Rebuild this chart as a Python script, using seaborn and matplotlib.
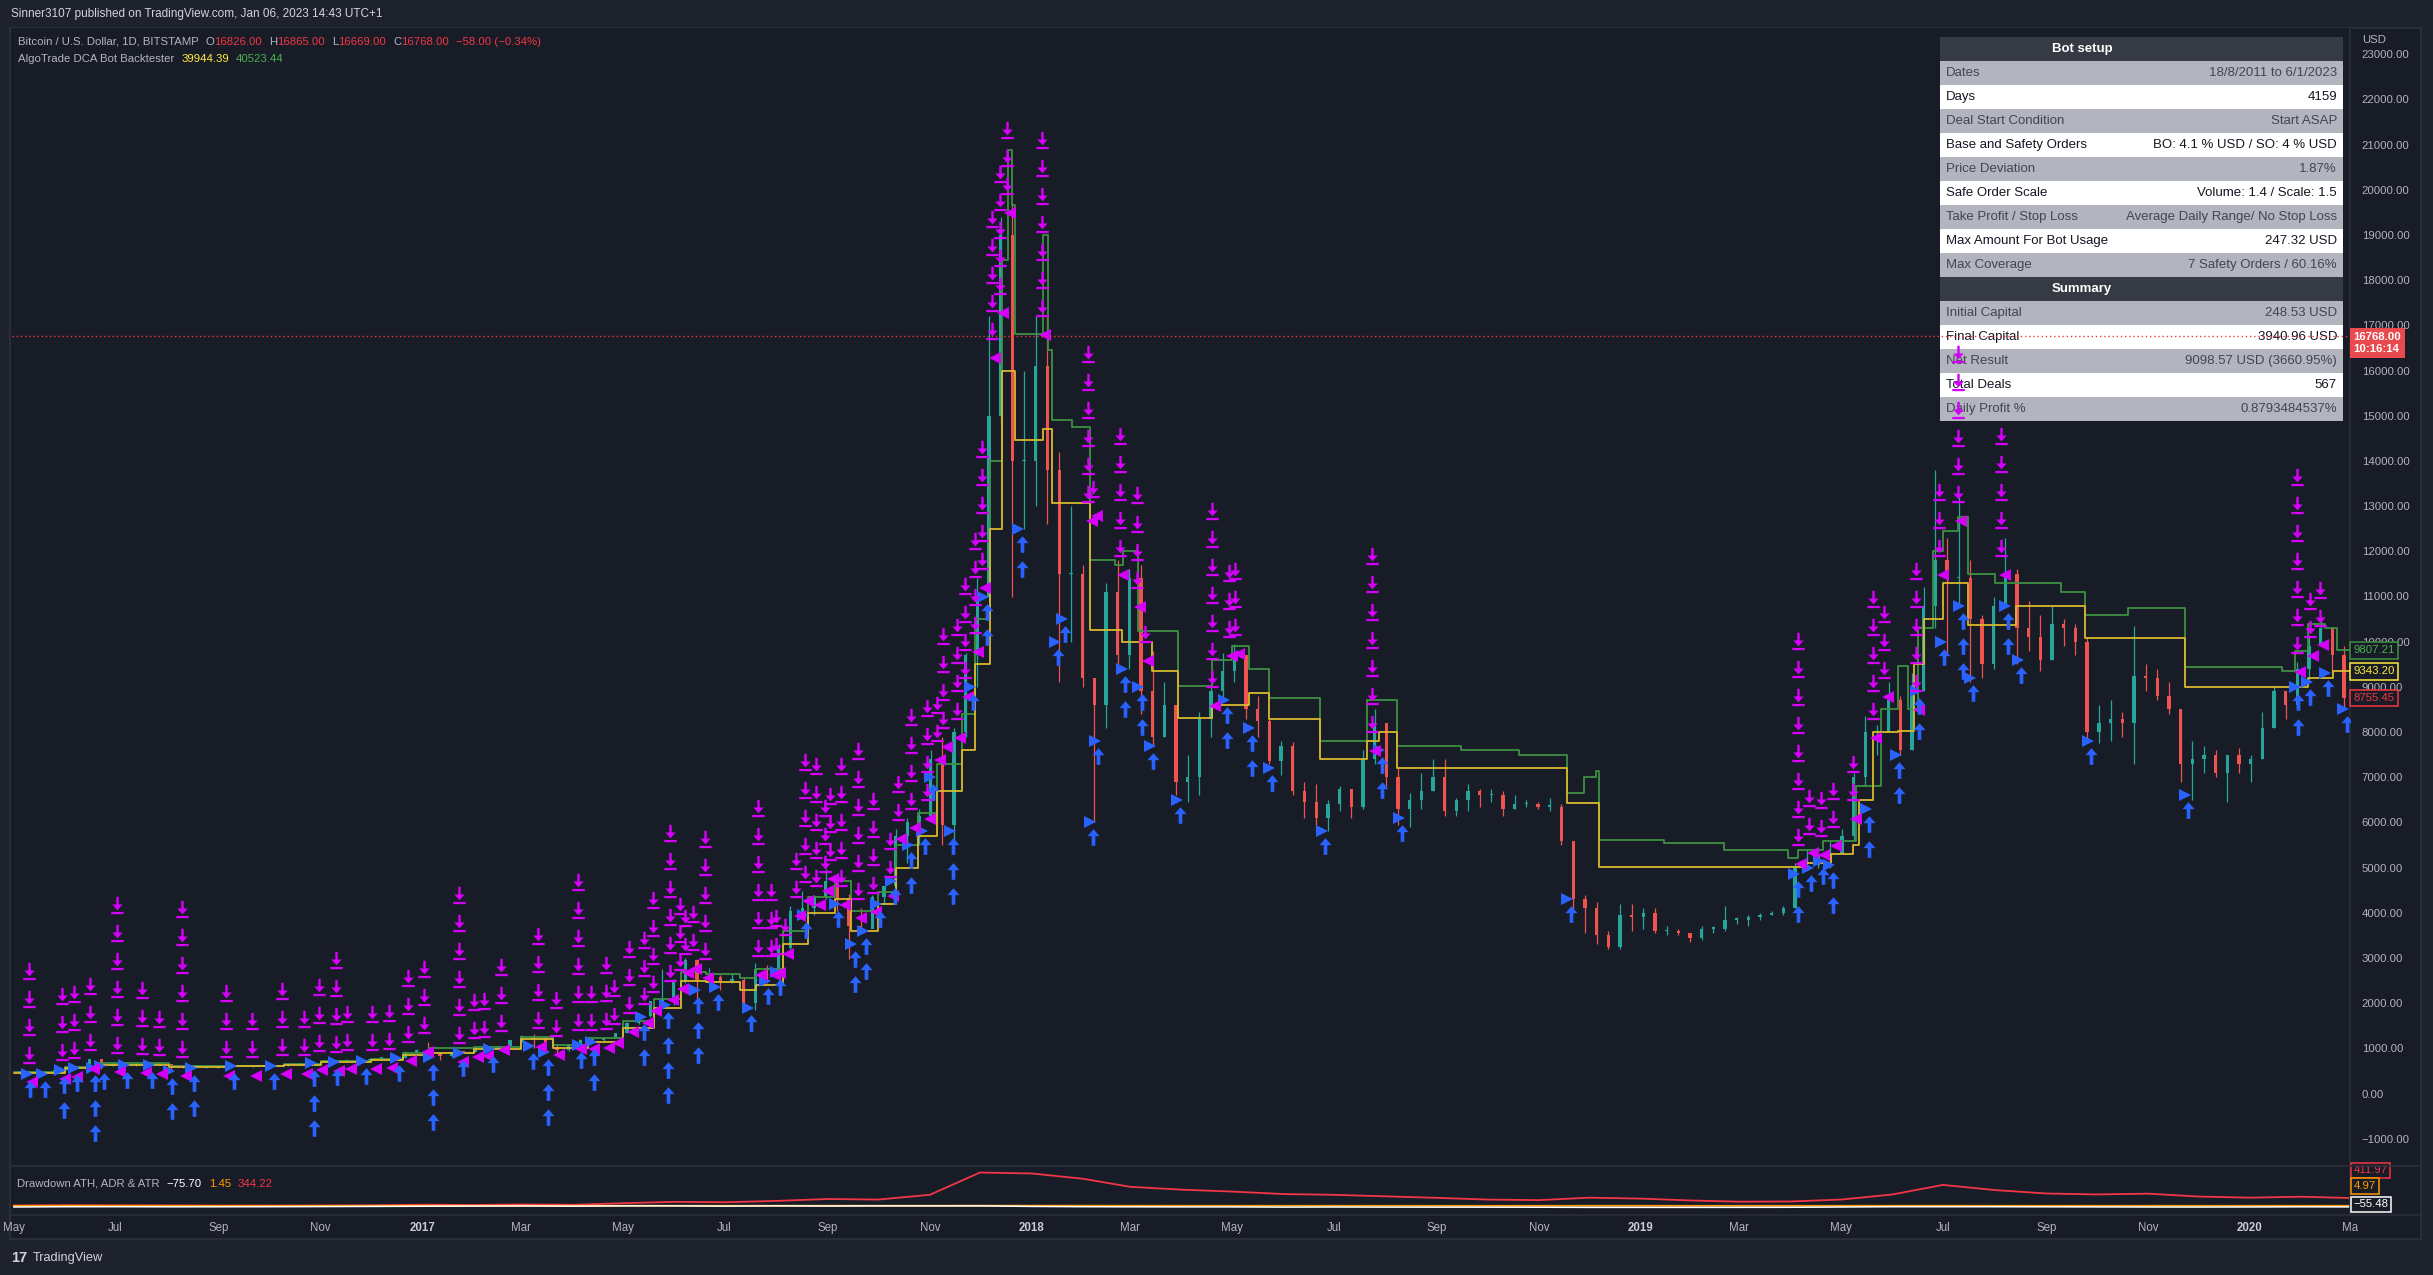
import matplotlib
matplotlib.use("Agg")
import matplotlib.pyplot as plt
from matplotlib.path import Path
from matplotlib.patches import Rectangle
from matplotlib.lines import Line2D
from matplotlib.markers import MarkerStyle
from matplotlib.transforms import offset_copy, blended_transform_factory
import numpy as np
import pandas as pd
import seaborn as sns

W, H = 2433, 1275

# ---- weekly BTC/USD candles (Bitstamp), week starting 2016-05-01 ----
close = [
    # 2016
    460, 455, 440, 530, 575, 580, 760, 620, 675, 655, 665, 660, 655, 590, 585, 575, 580, 575,
    610, 605, 605, 610, 615, 640, 655, 700, 705, 705, 740, 735, 770, 770, 790, 895, 960,
    # 2017
    905, 830, 920, 915, 1015, 1000, 1055, 1175, 1270, 1200, 1030, 960, 1090, 1180, 1180, 1230,
    1340, 1560, 1720, 2040, 2100, 2500, 2950, 2520, 2590, 2500, 2510, 2000, 2750, 2740, 3230,
    4050, 4100, 4360, 4700, 4330, 3700, 3650, 4350, 4600, 5700, 6000, 6150, 7400, 5950, 8000,
    9700, 11000, 15000, 19000, 14000, 14000, 16100,
    # 2018
    13800, 11500, 11500, 9200, 8600, 11100, 9700, 11400, 8900, 7900, 8600, 6900, 7000, 8300,
    8900, 9350, 9700, 8500, 8250, 7350, 7700, 6700, 6450, 6100, 6400, 6750, 6350, 7400, 8200,
    7000, 6300, 6500, 6700, 7000, 6250, 6500, 6700, 6600, 6600, 6300, 6400, 6400, 6350, 6350,
    5600, 4300, 4100, 3500, 3250, 3950, 3900, 4000,
    # 2019
    3600, 3600, 3550, 3450, 3650, 3650, 3850, 3850, 3900, 3950, 4000, 4100, 5000, 5050, 5300,
    5300, 5700, 7000, 8000, 8000, 8700, 7600, 8900, 10800, 11800, 11400, 11400, 10500, 9500,
    10800, 11500, 10300, 10100, 9600, 10400, 10300, 10000, 8000, 8200, 8300, 8200, 9250, 9200,
    8800, 8500, 7300, 7400, 7500, 7100, 7500, 7300, 7400,
    # 2020
    8100, 8900, 8600, 9400, 9900, 10300, 9700, 8755.45,
]
high = [
    465, 465, 458, 535, 590, 595, 775, 770, 690, 700, 680, 680, 665, 630, 600, 590, 590, 580,
    620, 612, 610, 615, 620, 645, 660, 705, 745, 725, 755, 750, 775, 780, 795, 935, 980,
    1150, 910, 930, 930, 1025, 1065, 1060, 1180, 1290, 1325, 1260, 1080, 1100, 1210, 1200, 1240,
    1350, 1580, 1780, 2060, 2760, 2530, 2990, 2980, 2780, 2620, 2660, 2560, 2900, 2840, 3320,
    4150, 4490, 4400, 4980, 4750, 4420, 4100, 4400, 4600, 5850, 6100, 6300, 7600, 7890, 8100,
    9750, 11400, 17200, 19400, 19700, 16000, 17200,
    17200, 14200, 13000, 11700, 9200, 11300, 11800, 11600, 11700, 9800, 9100, 8600, 7500, 8450,
    9000, 9750, 9950, 9700, 8800, 8300, 7800, 7780, 6900, 6850, 6500, 6800, 6550, 7600, 8500,
    8200, 7200, 6650, 7100, 7400, 7400, 6550, 6850, 6750, 6750, 6700, 6600, 6500, 6450, 6550,
    6400, 5600, 4400, 4250, 3600, 4200, 4200, 4100,
    4100, 3700, 3650, 3500, 3700, 3700, 4150, 3900, 3950, 4000, 4050, 4150, 5100, 5400, 5350,
    5600, 5850, 7100, 8350, 8150, 9100, 8800, 9300, 11200, 13800, 12300, 13200, 11800, 10600,
    11000, 12300, 11600, 10900, 10600, 10800, 10500, 10400, 10100, 8600, 8700, 8450, 10350, 9500,
    9400, 9100, 8500, 7800, 7700, 7600, 7500, 7650, 7500,
    8450, 9000, 8800, 9550, 10150, 10500, 10200, 9900,
]
low = [
    440, 445, 435, 438, 520, 565, 580, 550, 610, 640, 620, 650, 640, 480, 570, 565, 570, 565,
    570, 600, 595, 600, 605, 612, 635, 650, 690, 695, 700, 725, 730, 755, 765, 790, 890,
    880, 750, 820, 890, 910, 945, 990, 1050, 1150, 1010, 1000, 890, 950, 1080, 1150, 1170,
    1220, 1340, 1550, 1700, 2050, 1950, 2450, 2100, 2450, 2300, 2450, 1980, 1850, 2450, 2650,
    3200, 3950, 3950, 4300, 4050, 2980, 3550, 3700, 4200, 4550, 5100, 5500, 6100, 5500, 5600,
    7900, 9000, 10900, 14800, 11000, 12500, 13000,
    12600, 9100, 10000, 9000, 6000, 8100, 9300, 9400, 8400, 7700, 7900, 6600, 6450, 6600,
    7900, 8700, 9100, 8300, 7900, 7300, 7050, 6600, 6100, 5800, 5800, 6250, 6100, 6300, 7300,
    6800, 5950, 5900, 6300, 6700, 6150, 6150, 6250, 6350, 6450, 6150, 6300, 6350, 6300, 6250,
    5500, 4000, 3550, 3300, 3200, 3200, 3600, 3650,
    3550, 3500, 3500, 3350, 3400, 3550, 3600, 3750, 3700, 3850, 3950, 3950, 4100, 4950, 5000,
    5000, 5300, 5600, 6800, 7500, 8000, 7500, 7600, 8900, 10300, 9700, 10800, 9100, 9200,
    9400, 10900, 9500, 9800, 9350, 9600, 9900, 9700, 7800, 7750, 7800, 7900, 7300, 8900,
    8700, 8400, 6900, 6500, 7100, 7000, 6450, 7100, 6900,
    7400, 8100, 8300, 8500, 9150, 9900, 9300, 8500,
]
week_start = pd.date_range("2016-05-01", periods=len(close), freq="7D")

# ---- bot lines: average entry (yellow) and take-profit target (green) ----
avg_dates = ["2016-05-01", "2016-06-01", "2016-06-20", "2016-08-02", "2016-09-05", "2016-10-10",
             "2016-11-01", "2016-12-01", "2016-12-20", "2017-01-05", "2017-02-01", "2017-03-01",
             "2017-03-20", "2017-04-10", "2017-05-01", "2017-05-20", "2017-06-05", "2017-06-20",
             "2017-07-10", "2017-07-20", "2017-08-05", "2017-08-20", "2017-09-05", "2017-09-15",
             "2017-10-01", "2017-10-12", "2017-10-25", "2017-11-05", "2017-11-20", "2017-11-28",
             "2017-12-07", "2017-12-14", "2017-12-22", "2018-01-08", "2018-01-13", "2018-02-05",
             "2018-02-24", "2018-03-14", "2018-03-30", "2018-04-19", "2018-05-11", "2018-05-23",
             "2018-06-23", "2018-07-21", "2018-07-28", "2018-08-08", "2018-11-18", "2018-12-07",
             "2019-04-02", "2019-04-10", "2019-04-25", "2019-05-08", "2019-05-12", "2019-05-20",
             "2019-06-04", "2019-06-14", "2019-06-20", "2019-07-01", "2019-07-16", "2019-08-14",
             "2019-09-24", "2019-11-23", "2020-01-28", "2020-02-05", "2020-02-20", "2020-03-01"]
avg_vals = [455, 560, 640, 585, 600, 630, 700, 745, 860, 900, 990, 1200, 1010, 1150, 1450, 1900,
            2500, 2480, 2300, 2400, 3300, 4000, 4300, 3600, 4200, 5000, 5700, 6700, 7600, 9500,
            12500, 16000, 14470, 14700, 13080, 10260, 9990, 9350, 8320, 8600, 8870, 8300, 7400,
            7800, 8000, 7200, 6420, 5010, 5010, 5100, 5300, 5500, 6500, 8000, 8025, 9500, 10500,
            11300, 10370, 10800, 10090, 8990, 9000, 9200, 9343.20, 9343.20]

tp_dates = ["2016-05-01", "2016-06-01", "2016-06-20", "2016-08-02", "2016-09-05", "2016-10-10",
            "2016-11-01", "2016-12-01", "2016-12-20", "2017-01-05", "2017-02-01", "2017-03-01",
            "2017-03-20", "2017-04-10", "2017-05-01", "2017-05-20", "2017-06-05", "2017-06-20",
            "2017-07-10", "2017-07-20", "2017-08-05", "2017-08-20", "2017-09-05", "2017-09-15",
            "2017-10-01", "2017-10-12", "2017-10-25", "2017-11-05", "2017-11-20", "2017-11-28",
            "2017-12-07", "2017-12-14", "2017-12-18", "2017-12-20", "2017-12-22", "2018-01-08",
            "2018-01-11", "2018-01-13", "2018-01-25", "2018-02-05", "2018-02-20", "2018-02-25",
            "2018-03-06", "2018-03-30", "2018-04-19", "2018-05-01", "2018-05-11", "2018-05-23",
            "2018-06-23", "2018-07-21", "2018-08-08", "2018-09-15", "2018-10-20", "2018-11-18",
            "2018-11-28", "2018-12-05", "2018-12-07", "2019-01-15", "2019-02-20", "2019-03-30",
            "2019-04-05", "2019-04-20", "2019-05-10", "2019-05-25", "2019-06-04", "2019-06-10",
            "2019-06-16", "2019-06-25", "2019-07-01", "2019-07-10", "2019-07-16", "2019-08-01",
            "2019-08-14", "2019-09-10", "2019-09-24", "2019-10-20", "2019-11-23", "2020-01-20",
            "2020-01-28", "2020-02-05", "2020-02-15", "2020-02-22", "2020-03-01"]
tp_vals = [475, 580, 680, 600, 615, 650, 720, 770, 900, 1000, 1040, 1260, 1080, 1220, 1600, 2100,
           2700, 2650, 2550, 2750, 3600, 4350, 4700, 4050, 4450, 5500, 6200, 7300, 8400, 10500,
           14000, 18450, 20880, 19660, 16800, 19000, 16460, 14900, 14750, 11800, 11700, 12000,
           10230, 9010, 9600, 9900, 9390, 8760, 7800, 8700, 7690, 7600, 7500, 6660, 7000, 7140,
           5620, 5550, 5400, 5220, 5400, 5600, 6800, 8500, 9470, 8500, 10300, 12000, 12460,
           12770, 11490, 11300, 11300, 11100, 10600, 10750, 9430, 9360, 9800, 10400, 10300,
           9807.21, 9807.21]

# ---- closed deals (magenta stacks above bar) ----
sell_dates = ["2016-05-10", "2016-05-30", "2016-06-06", "2016-06-16", "2016-07-02", "2016-07-17",
              "2016-07-27", "2016-08-10", "2016-09-05", "2016-09-21", "2016-10-09", "2016-10-22",
              "2016-10-31", "2016-11-10", "2016-11-17", "2016-12-02", "2016-12-12", "2016-12-23",
              "2017-01-02", "2017-01-23", "2017-02-01", "2017-02-07", "2017-02-17", "2017-03-11",
              "2017-03-22", "2017-04-04", "2017-04-12", "2017-04-21", "2017-04-26", "2017-05-05",
              "2017-05-14", "2017-05-19", "2017-05-29", "2017-06-04", "2017-06-07", "2017-06-12",
              "2017-06-19", "2017-07-21", "2017-07-29", "2017-08-01", "2017-08-06", "2017-08-13",
              "2017-08-18", "2017-08-25", "2017-08-30", "2017-09-02", "2017-09-09", "2017-09-19",
              "2017-09-28", "2017-10-08", "2017-10-13", "2017-10-21", "2017-10-30", "2017-11-05",
              "2017-11-09", "2017-11-17", "2017-11-22", "2017-11-28", "2017-12-02", "2017-12-08",
              "2017-12-13", "2017-12-17",
              "2018-01-07", "2018-02-04", "2018-02-07", "2018-02-23", "2018-03-05", "2018-03-10",
              "2018-04-19", "2018-04-29", "2018-05-03", "2018-07-24",
              "2019-04-05", "2019-04-12", "2019-04-19", "2019-04-26", "2019-05-08", "2019-05-20",
              "2019-05-27", "2019-06-15", "2019-06-29", "2019-07-10", "2019-08-05",
              "2020-01-29", "2020-02-06", "2020-02-12"]
sell_levels = [470, 540, 590, 770, 700, 680, 660, 600, 615, 612, 645, 660, 745, 725, 755, 775, 790, 935,
               1150, 930, 1025, 1060, 1180, 1260, 1080, 1210, 1200, 1240, 1350, 1580, 1780, 2060,
               2300, 2530, 2900, 2980, 2780, 2840, 2850, 2900, 3320, 4150, 4490, 4400, 4700, 4980,
               4400, 4100, 4250, 4600, 5850, 6100, 6300, 7600, 7890, 8100, 9000, 10000, 11400,
               16500, 17500, 19700,
               17000, 12900, 13000, 11700, 11000, 9800, 8800, 9900, 9950, 7800,
               5300, 5550, 5500, 5700, 6300, 8100, 9000, 8700, 11700, 12900, 11700,
               9550, 9900, 10150]
sell_counts = [4, 3, 3, 3, 6, 3, 2, 6, 3, 2, 3, 2, 3, 4, 2, 2, 2, 3,
               3, 6, 2, 2, 3, 4, 2, 6, 2, 3, 2, 3, 3, 4, 6, 3, 2, 2, 5, 6, 3, 2, 1, 2, 5, 5, 3,
               3, 5, 6, 4, 2, 2, 4, 4, 2, 4, 4, 4, 4, 5, 5, 5, 3,
               7, 6, 1, 5, 4, 1, 7, 3, 3, 7,
               8, 2, 2, 2, 2, 5, 3, 5, 3, 6, 5,
               7, 2, 2]

# ---- safety orders (blue stacks below bar) ----
buy_dates = ["2016-05-11", "2016-05-20", "2016-05-31", "2016-06-08", "2016-06-19", "2016-06-24",
             "2016-07-08", "2016-07-23", "2016-08-04", "2016-08-17", "2016-09-10", "2016-10-04",
             "2016-10-28", "2016-11-11", "2016-11-28", "2016-12-18", "2017-01-07", "2017-01-25",
             "2017-02-12", "2017-03-08", "2017-03-17", "2017-04-06", "2017-04-14", "2017-05-14",
             "2017-05-28", "2017-06-15", "2017-06-27", "2017-07-17", "2017-07-27", "2017-08-03",
             "2017-08-19", "2017-09-07", "2017-09-17", "2017-09-24", "2017-10-02", "2017-10-11",
             "2017-10-21", "2017-10-29", "2017-11-03", "2017-11-15", "2017-11-27", "2017-12-05",
             "2017-12-26", "2018-01-17", "2018-01-21", "2018-02-07", "2018-02-10", "2018-02-26",
             "2018-03-08", "2018-03-15", "2018-03-31", "2018-04-28", "2018-05-13", "2018-05-25",
             "2018-06-26", "2018-07-30", "2018-08-11", "2018-11-20", "2019-04-05", "2019-04-13",
             "2019-04-20", "2019-04-26", "2019-05-18", "2019-06-05", "2019-06-17", "2019-07-02",
             "2019-07-13", "2019-07-19", "2019-08-09", "2019-08-17", "2019-09-28", "2019-11-25",
             "2020-01-30", "2020-02-06", "2020-02-17", "2020-02-28"]
buy_levels = [440, 440, 520, 570, 560, 600, 630, 640, 500, 570, 600, 605, 680, 700, 730, 790, 800,
              890, 990, 1050, 930, 1080, 1150, 1700, 1950, 2300, 2350, 1900, 2500, 2700, 3950,
              4200, 3300, 3600, 4200, 4700, 5500, 5800, 7000, 5800, 9000, 11000, 12500, 10000,
              10500, 6000, 7800, 9400, 9000, 7700, 6500, 8700, 8100, 7200, 5800, 7600, 6100,
              4300, 4850, 5000, 5150, 5050, 6300, 7500, 8900, 10000, 10800, 9200, 10800, 9600,
              7800, 6600, 9000, 9100, 9300, 8500]
buy_counts = [1, 1, 2, 1, 3, 1, 1, 1, 2, 2, 1, 1, 3, 1, 1, 1, 3, 1, 1, 1, 3, 1, 2, 2, 4, 3, 1, 1,
              1, 1, 1, 1, 2, 2, 1, 1, 2, 1, 1, 3, 1, 2, 2, 1, 1, 1, 1, 2, 2, 1, 1, 2, 2, 1, 1, 2,
              1, 1, 2, 1, 1, 2, 2, 2, 2, 1, 3, 1, 2, 1, 1, 1, 2, 1, 1, 1]

# ---- lower pane, monthly: ATR, ADR %, drawdown from ATH % ----
pane_dates = pd.date_range("2016-05-01", "2020-03-01", freq="MS")
atr_vals = [18, 35, 28, 22, 12, 12, 16, 28,
            60, 45, 75, 55, 140, 210, 190, 260, 360, 330, 580, 1750,
            1700, 1420, 1000, 850, 750, 620, 580, 500, 420, 330, 300, 430,
            380, 280, 220, 230, 330, 600, 1100, 830, 650, 600, 640, 490,
            430, 480, 412]
adr_vals = [2.5, 3, 3, 2.5, 1.5, 1.5, 2, 3,
            5, 3.5, 5, 4, 5, 6, 6, 6, 7, 6, 6, 9,
            9, 9, 7, 6, 5, 4, 4, 4, 3, 2, 3, 5,
            4, 3, 2, 3, 4, 6, 7, 5, 4, 4, 4, 3.5,
            3.5, 4, 5]
dd_vals = [-60, -45, -45, -50, -48, -45, -38, -30,
           -20, -10, -5, -15, 0, 0, -15, 0, -10, 0, 0, 0,
           -30, -45, -50, -55, -55, -65, -60, -65, -67, -67, -72, -80,
           -80, -80, -79, -75, -60, -45, -45, -45, -50, -55, -60, -62,
           -58, -50, -55]

tick_dates = ["2016-05-01", "2016-07-01", "2016-09-01", "2016-11-01", "2017-01-01", "2017-03-01",
              "2017-05-01", "2017-07-01", "2017-09-01", "2017-11-01", "2018-01-01", "2018-03-01",
              "2018-05-01", "2018-07-01", "2018-09-01", "2018-11-01", "2019-01-01", "2019-03-01",
              "2019-05-01", "2019-07-01", "2019-09-01", "2019-11-01", "2020-01-01", "2020-03-01"]
tick_labels = ["May", "Jul", "Sep", "Nov", "2017", "Mar", "May", "Jul", "Sep", "Nov", "2018", "Mar",
               "May", "Jul", "Sep", "Nov", "2019", "Mar", "May", "Jul", "Sep", "Nov", "2020", "Ma"]

table_rows = [("Bot setup", None), ("Dates", "18/8/2011 to 6/1/2023"), ("Days", "4159"),
              ("Deal Start Condition", "Start ASAP"),
              ("Base and Safety Orders", "BO: 4.1 % USD / SO: 4 % USD"),
              ("Price Deviation", "1.87%"), ("Safe Order Scale", "Volume: 1.4 / Scale: 1.5"),
              ("Take Profit / Stop Loss", "Average Daily Range/ No Stop Loss"),
              ("Max Amount For Bot Usage", "247.32 USD"),
              ("Max Coverage", "7 Safety Orders / 60.16%"), ("Summary", None),
              ("Initial Capital", "248.53 USD"), ("Final Capital", "3940.96 USD"),
              ("Net Result", "9098.57 USD (3660.95%)"), ("Total Deals", "567"),
              ("Daily Profit %", "0.8793484537%")]

# ---------------- style ----------------
BG_OUT = "#1e222d"
BG = "#181c27"
GRID = "#2a2e39"
TXT = "#b2b5be"
UP, DOWN = "#26a69a", "#ef5350"
RED = "#f23645"
MAG = "#d500f9"
BLUE = "#2962ff"
YEL = "#d9b92c"
GRN = "#3d9142"

sns.set_theme(style="dark", rc={"axes.facecolor": BG, "figure.facecolor": BG_OUT})
plt.rcParams["font.family"] = ["Liberation Sans", "DejaVu Sans"]

fig = plt.figure(figsize=(W / 100, H / 100), dpi=100)
fig.add_artist(Rectangle((10 / W, 1 - 1239 / H), (2421 - 10) / W, (1239 - 28) / H,
                         transform=fig.transFigure, facecolor=BG, edgecolor=GRID, lw=1.5, zorder=-5))

ax = fig.add_axes([12 / W, 1 - 1165 / H, (2350 - 12) / W, (1165 - 28) / H])
ax2 = fig.add_axes([12 / W, 1 - 1215 / H, (2350 - 12) / W, (1215 - 1167) / H])
x0, x1 = pd.Timestamp("2016-04-30"), pd.Timestamp("2020-03-01")

for a in (ax, ax2):
    a.set_facecolor(BG)
    a.grid(False)
    a.set_xlim(x0, x1)
    for s in ("top", "left", "bottom"):
        a.spines[s].set_visible(False)
    a.spines["right"].set_color(GRID)
    a.spines["right"].set_linewidth(1.2)

# separators spanning the full frame
for yy in (1166, 1215):
    fig.add_artist(Line2D([10 / W, 2421 / W], [1 - yy / H, 1 - yy / H], color=GRID, lw=1.2))

# ---------------- candles ----------------
opens = [close[0]] + close[:-1]
centers = week_start + pd.Timedelta(days=3.5)
cols = [UP if c >= o else DOWN for o, c in zip(opens, close)]
ax.vlines(centers, low, high, colors=cols, lw=0.9, zorder=2)
body_lo = np.minimum(opens, close)
body_h = np.maximum(np.abs(np.array(close) - np.array(opens)), 30)
ax.bar(centers, body_h, bottom=body_lo, width=2.0, color=cols, linewidth=0, zorder=2)

# bot lines
sns.lineplot(x=pd.to_datetime(tp_dates), y=tp_vals, ax=ax, color=GRN, lw=1.3,
             drawstyle="steps-post", errorbar=None, zorder=3)
sns.lineplot(x=pd.to_datetime(avg_dates), y=avg_vals, ax=ax, color=YEL, lw=1.3,
             drawstyle="steps-post", errorbar=None, zorder=3)

ax.set_ylim(-1580, 23580)

# ---------------- markers ----------------
shaft = Path([(-0.07, 0.5), (0.07, 0.5), (0.07, 0.06), (-0.07, 0.06), (-0.07, 0.5)], closed=True)
head = Path([(-0.3, 0.06), (0.3, 0.06), (0.0, -0.28), (-0.3, 0.06)], closed=True)
bar = Path([(-0.36, -0.37), (0.36, -0.37), (0.36, -0.5), (-0.36, -0.5), (-0.36, -0.37)], closed=True)
down_arrow = MarkerStyle(Path.make_compound_path(shaft, head, bar))
up_arrow = MarkerStyle(Path([(0, 0.5), (0.36, 0.08), (0.11, 0.08), (0.11, -0.5), (-0.11, -0.5),
                             (-0.11, 0.08), (-0.36, 0.08), (0, 0.5)], closed=True))

sd = pd.to_datetime(sell_dates)
bd = pd.to_datetime(buy_dates)
sc = np.array(sell_counts)
bc = np.array(buy_counts)
sl = np.array(sell_levels, dtype=float)
bl = np.array(buy_levels, dtype=float)

for k in range(sc.max()):
    m = sc > k
    tr = offset_copy(ax.transData, fig=fig, y=17 + 28 * k, units="dots")
    ax.plot(sd[m], sl[m], ls="none", marker=down_arrow, ms=12.5, color=MAG, mew=0,
            transform=tr, zorder=6, clip_on=False)
for k in range(bc.max()):
    m = bc > k
    tr = offset_copy(ax.transData, fig=fig, y=-15 - 25 * k, units="dots")
    ax.plot(bd[m], bl[m], ls="none", marker=up_arrow, ms=12, color=BLUE, mew=0,
            transform=tr, zorder=6)

# deal entry / exit triangles on the price
ax.plot(bd - pd.Timedelta(days=2), bl, ls="none", marker=">", ms=8, color=BLUE, mew=0, zorder=5)
ax.plot(sd + pd.Timedelta(days=2), sl, ls="none", marker="<", ms=8, color=MAG, mew=0,
        transform=offset_copy(ax.transData, fig=fig, y=-10, units="dots"), zorder=5)

# last price line
ax.axhline(16768, color=RED, lw=1.0, ls=(0, (1, 2)), zorder=7)

# ---------------- table ----------------
def fr(x, y):
    return x / W, 1 - y / H


TX, TW, TY, RH = 1940, 403, 37, 24
for i, (lab, val) in enumerate(table_rows):
    y = TY + i * RH
    if val is None:
        fc, tc = "#363a45", "#ffffff"
    elif i % 2 == 1:
        fc, tc = "#b2b5be", "#434651"
    else:
        fc, tc = "#ffffff", "#131722"
    ax.add_patch(Rectangle(fr(TX, y + RH), TW / W, RH / H, transform=fig.transFigure, facecolor=fc,
                           edgecolor="none", zorder=4, clip_on=False))
    if val is None:
        ax.text(*fr(2082, y + RH / 2), lab, transform=fig.transFigure, color=tc, fontsize=9.5,
                fontweight="bold", ha="center", va="center", zorder=4.5)
    else:
        ax.text(*fr(TX + 6, y + RH / 2), lab, transform=fig.transFigure, color=tc, fontsize=9.5,
                ha="left", va="center", zorder=4.5)
        ax.text(*fr(TX + TW - 6, y + RH / 2), val, transform=fig.transFigure, color=tc,
                fontsize=9.5, ha="right", va="center", zorder=4.5)

# ---------------- price axis ----------------
ax.yaxis.tick_right()
ax.set_yticks(range(-1000, 23001, 1000))
ax.set_yticklabels([f"{v:.2f}".replace("-", "\u2212") for v in range(-1000, 23001, 1000)])
ax.tick_params(axis="y", length=0, pad=8.5, labelsize=8.2, labelcolor=TXT)
ax.set_xticks([])
ax.set_xlabel("")
ax.text(1.005, 0.9895, "USD", transform=ax.transAxes, color=TXT, fontsize=8.2, ha="left",
        va="center", zorder=10, clip_on=False,
        bbox=dict(boxstyle="square,pad=0.3", facecolor=BG, edgecolor="none"))

bt = blended_transform_factory(ax.transAxes, ax.transData)
for v, c, s in [(9807.21, GRN, "9807.21"), (9343.20, "#ffeb3b", "9343.20"), (8755.45, RED, "8755.45")]:
    ax.text(1.0015, v, s, transform=bt, color=c if c != GRN else "#4caf50", fontsize=8.2,
            ha="left", va="center", clip_on=False, zorder=10,
            bbox=dict(boxstyle="square,pad=0.3", facecolor=BG, edgecolor=c, lw=1.1))
ax.text(1.0015, 16768, "16768.00\n10:16:14",
        transform=offset_copy(bt, fig=fig, y=-7, units="dots"), color="white", fontsize=8.2,
        fontweight="bold", ha="left", va="center", linespacing=1.25, clip_on=False, zorder=10,
        bbox=dict(boxstyle="square,pad=0.35", facecolor="#e84a50", edgecolor="none"))

# ---------------- lower pane ----------------
sns.lineplot(x=pane_dates, y=atr_vals, ax=ax2, color=RED, lw=1.3, errorbar=None)
sns.lineplot(x=pane_dates, y=adr_vals, ax=ax2, color="#ff9800", lw=1.3, errorbar=None)
sns.lineplot(x=pane_dates, y=dd_vals, ax=ax2, color="#ffffff", lw=1.1, errorbar=None)
ax2.set_ylim(-480, 2040)
ax2.set_yticks([])
ax2.set_ylabel("")
ax2.set_xlabel("")
ax2.set_xticks(pd.to_datetime(tick_dates))
ax2.set_xticklabels(tick_labels)
ax2.tick_params(axis="x", length=0, pad=5, labelsize=8.3, labelcolor=TXT)
for t in ax2.get_xticklabels():
    if t.get_text().isdigit():
        t.set_fontweight("bold")
        t.set_color("#c8cbd3")

for yf, c, s, tc in [(0.93, RED, "411.97", RED), (0.6, "#ff9800", "4.97", "#ff9800"),
                     (0.22, "#ffffff", "\u221255.48", "#ffffff")]:
    ax2.text(1.0015, yf, s, transform=ax2.transAxes, color=tc, fontsize=8.2, ha="left",
             va="center", clip_on=False, zorder=10,
             bbox=dict(boxstyle="square,pad=0.25", facecolor=BG, edgecolor=c, lw=1.1))

# ---------------- header / legends ----------------
renderer = fig.canvas.get_renderer()


def chain(pieces, x, y, size):
    for s, c, gap in pieces:
        t = fig.text(x / W, 1 - y / H, s, color=c, fontsize=size, va="center", ha="left", zorder=10)
        x += t.get_window_extent(renderer=renderer).width + gap


chain([("Sinner3107 published on TradingView.com, Jan 06, 2023 14:43 UTC+1", "#d1d4dc", 0)], 11, 14, 8.5)
chain([("Bitcoin / U.S. Dollar, 1D, BITSTAMP", TXT, 7), ("O", TXT, 0), ("16826.00", RED, 7),
       ("H", TXT, 0), ("16865.00", RED, 7), ("L", TXT, 0), ("16669.00", RED, 7),
       ("C", TXT, 0), ("16768.00", RED, 7), ("\u221258.00 (\u22120.34%)", RED, 0)], 18, 42, 8.2)
chain([("AlgoTrade DCA Bot Backtester", TXT, 7), ("39944.39", "#ffeb3b", 7),
       ("40523.44", "#4caf50", 0)], 18, 59, 8.2)
chain([("Drawdown ATH, ADR & ATR", TXT, 7), ("\u221275.70", "#ffffff", 7),
       ("1.45", "#ff9800", 7), ("344.22", RED, 0)], 17, 1184, 8.2)
chain([("17", "#d1d4dc", 3)], 11, 1258, 10.5)
fig.texts[-1].set_fontweight("heavy")
chain([("TradingView", "#d1d4dc", 0)], 33, 1258, 9.2)

fig.savefig("out.png", dpi=100, facecolor=BG_OUT)
